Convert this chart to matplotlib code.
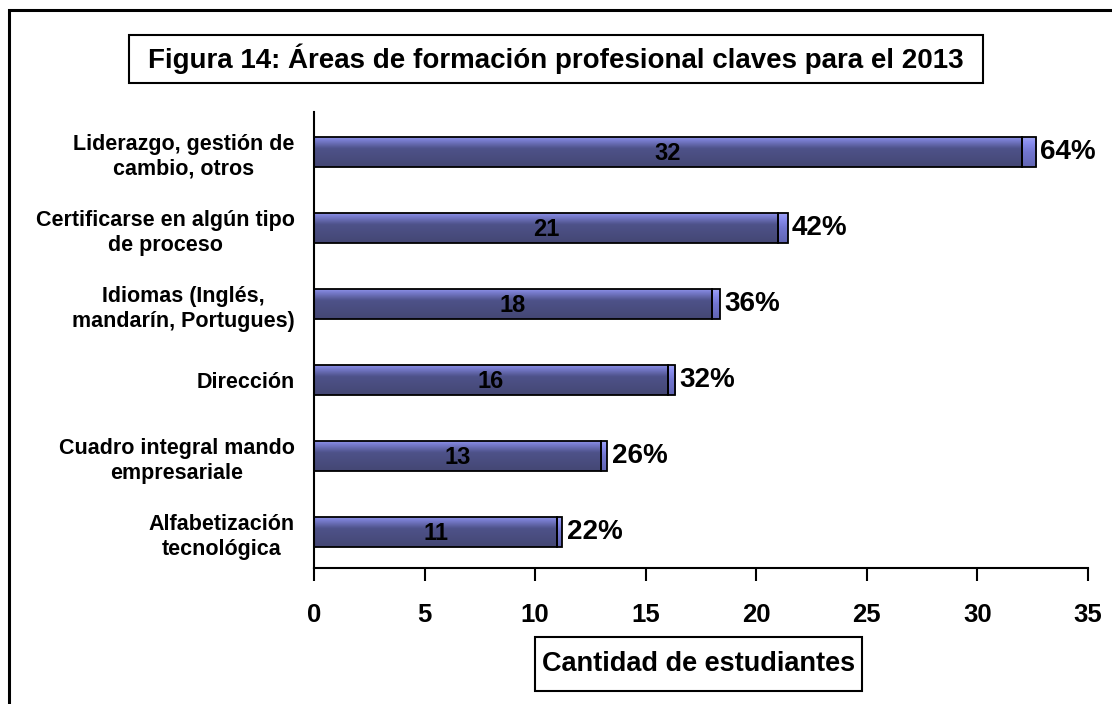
import matplotlib
matplotlib.use("Agg")
import matplotlib.pyplot as plt
import numpy as np
from matplotlib.patches import Rectangle
from matplotlib.colors import LinearSegmentedColormap

categories = ["Liderazgo, gestión de\ncambio, otros",
              "Certificarse en algún tipo\nde proceso",
              "Idiomas (Inglés,\nmandarín, Portugues)",
              "Dirección",
              "Cuadro integral mando\nempresariale",
              "Alfabetización\ntecnológica"]
counts = [32, 21, 18, 16, 13, 11]
percents = [64, 42, 36, 32, 26, 22]
xticks = [0, 5, 10, 15, 20, 25, 30, 35]
title = "Figura 14: Áreas de formación profesional claves para el 2013"
xlabel = "Cantidad de estudiantes"

plt.rcParams['font.family'] = ['Liberation Sans', 'DejaVu Sans']
plt.rcParams['font.weight'] = 'bold'

W, H = 1112, 704
fig = plt.figure(figsize=(W / 100, H / 100), dpi=100)

def fx(px):
    return px / W

def fy(py):
    return 1 - py / H

ax = fig.add_axes([fx(314), fy(568), fx(1088 - 314), (568 - 112) / H])

main_cmap = LinearSegmentedColormap.from_list(
    "main", [(0.0, "#9498ec"), (0.12, "#7a7ed2"), (0.4, "#4e5289"), (1.0, "#444774")])
pct_cmap = LinearSegmentedColormap.from_list(
    "pct", [(0.0, "#a4a8f6"), (0.2, "#8a8ef0"), (0.5, "#7276d0"), (1.0, "#6165b2")])

y = np.arange(len(categories)) + 0.03
bar_h = 0.4
ax.set_xlim(0, 35)
ax.set_ylim(len(categories) - 0.5, -0.5)

grad = np.linspace(0, 1, 64).reshape(-1, 1)

bars_main = ax.barh(y, counts, height=bar_h, color="none", edgecolor="black", linewidth=1.3, zorder=3)
pct_vals = [p / 100 for p in percents]
bars_pct = ax.barh(y, pct_vals, left=counts, height=bar_h, color="none", edgecolor="black",
                   linewidth=1.3, zorder=3)

for bars, cmap in ((bars_main, main_cmap), (bars_pct, pct_cmap)):
    for b in bars:
        x0, y0 = b.get_x(), b.get_y()
        w, h = b.get_width(), b.get_height()
        im = ax.imshow(grad, cmap=cmap, aspect="auto",
                       extent=[x0, x0 + w, y0 + h, y0], zorder=2, interpolation="bilinear")
        im.set_clip_path(b)

ax.set_xlim(0, 35)
ax.set_ylim(len(categories) - 0.5, -0.5)

for yi, c, p in zip(y, counts, percents):
    ax.text(c / 2, yi + 0.02, str(c), ha="center", va="center", fontsize=17, fontweight="bold", zorder=5)
    ax.text(c + p / 100 + 0.2, yi, f"{p}%", ha="left", va="center", fontsize=20,
            fontweight="bold", zorder=5)

ax.set_yticks(y)
ax.set_yticklabels(categories, fontsize=15.5, fontweight="bold", multialignment="center",
                   linespacing=1.25)
ax.tick_params(axis="y", length=0, pad=14)
ax.set_xticks(xticks)
ax.set_xticklabels([str(t) for t in xticks], fontsize=18.5, fontweight="bold")
ax.tick_params(axis="x", direction="out", length=9, width=1.5, pad=16)

for s in ("top", "right"):
    ax.spines[s].set_visible(False)
for s in ("left", "bottom"):
    ax.spines[s].set_linewidth(1.5)

# title box
fig.patches.append(Rectangle((fx(129), fy(83)), fx(983 - 129), (83 - 35) / H,
                             transform=fig.transFigure, fill=False, edgecolor="black", linewidth=1.5))
fig.text(fx(556), fy(59), title, ha="center", va="center", fontsize=20, fontweight="bold")

# x label box
fig.patches.append(Rectangle((fx(535), fy(691)), fx(862 - 535), (691 - 637) / H,
                             transform=fig.transFigure, fill=False, edgecolor="black", linewidth=1.5))
fig.text(fx(698.5), fy(664), xlabel, ha="center", va="center", fontsize=19.5, fontweight="bold")

# outer frame (extends past right and bottom edges)
fig.patches.append(Rectangle((fx(9), fy(720)), fx(1130 - 9), (720 - 10) / H,
                             transform=fig.transFigure, fill=False, edgecolor="black", linewidth=2.2))

fig.savefig("out.png", dpi=100)
